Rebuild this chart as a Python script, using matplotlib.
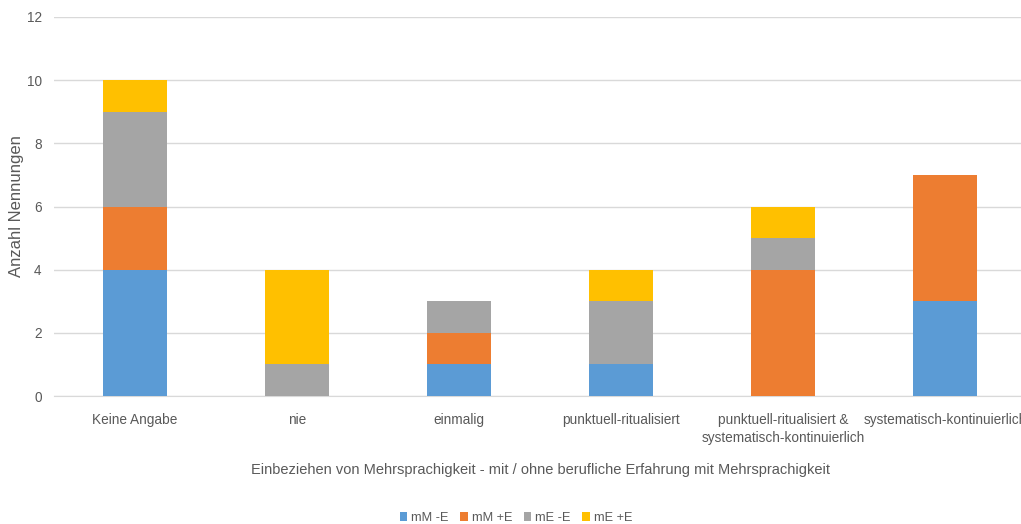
import numpy as np
import matplotlib
matplotlib.use('Agg')
import matplotlib.pyplot as plt

plt.rcParams['font.family'] = ['Liberation Sans', 'DejaVu Sans']

# Kategorien und Werte je Gruppe
categories = ['Keine Angabe', 'nie', 'einmalig', 'punktuell-ritualisiert',
              'punktuell-ritualisiert &\nsystematisch-kontinuierlich',
              'systematisch-kontinuierlich']
series_names = ['mM -E', 'mM +E', 'mE -E', 'mE +E']
mM_minusE = [4, 0, 1, 1, 0, 3]
mM_plusE = [2, 0, 1, 0, 4, 4]
mE_minusE = [3, 1, 1, 2, 1, 0]
mE_plusE = [1, 3, 0, 1, 1, 0]
colors = ['#5b9bd5', '#ed7d31', '#a5a5a5', '#ffc000']
grey = '#595959'

W, H = 1021, 524
fig = plt.figure(figsize=(W/100, H/100), dpi=100)
ax = fig.add_axes([54/W, 1-396/H, 972/W, (396-17)/H])

x = np.arange(len(categories))
bottom = np.zeros(len(categories))
for name, vals, c in zip(series_names, [mM_minusE, mM_plusE, mE_minusE, mE_plusE], colors):
    ax.bar(x, vals, width=0.4, bottom=bottom, color=c, label=name, zorder=3)
    bottom += np.array(vals)

ax.set_xlim(-0.5, len(categories)-0.5)
ax.set_ylim(0, 12)
ax.set_yticks(range(0, 13, 2))
ax.yaxis.grid(True, color='#d9d9d9', linewidth=1, zorder=0)
for s in ['top', 'right', 'left']:
    ax.spines[s].set_visible(False)
ax.spines['bottom'].set_color('#d9d9d9')
ax.tick_params(axis='both', length=0, colors=grey, labelsize=9.8)
ax.tick_params(axis='y', pad=9)
ax.tick_params(axis='x', pad=12)
ax.set_xticks(x)
ax.set_xticklabels(categories, linespacing=1.35)

ax.set_ylabel('Anzahl Nennungen', color=grey, fontsize=12, labelpad=1.5)
ax.set_xlabel('Einbeziehen von Mehrsprachigkeit - mit / ohne berufliche Erfahrung mit Mehrsprachigkeit',
              color=grey, fontsize=10.5, labelpad=13)

leg = fig.legend(loc='center', bbox_to_anchor=(516/W, 1-518/H), ncol=4, frameon=False,
                 fontsize=9.2, handlelength=0.6, handleheight=0.6, handletextpad=0.3,
                 columnspacing=0.9)
for t in leg.get_texts():
    t.set_color(grey)

fig.savefig('out.png', dpi=100)
